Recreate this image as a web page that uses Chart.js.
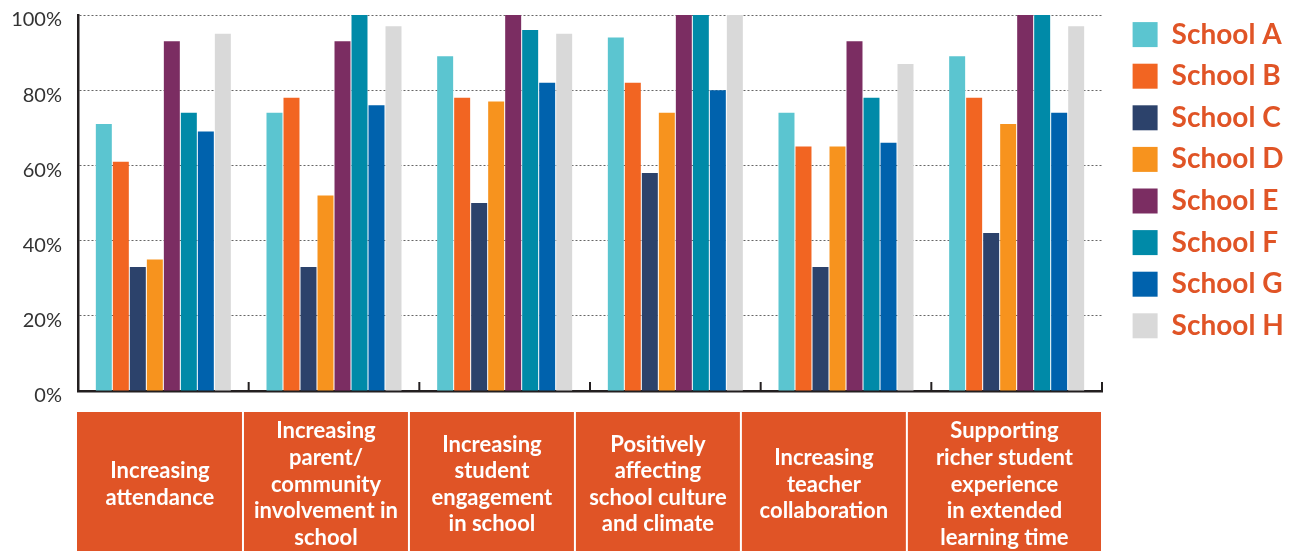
<!DOCTYPE html>
<html lang="en">
<head>
	<meta charset="UTF-8">
	<title>school outcomes chart</title>
	<style>
		html, body { margin: 0; padding: 0; background: #fff; }
		#wrap { width: 1297px; height: 551px; }
	</style>
</head>
<body>

<div id="wrap"><canvas id="myChart"></canvas></div>

<script src="https://cdn.jsdelivr.net/npm/chart.js@4.4.1/dist/chart.umd.min.js"></script>
<script>
// categories (multi-line labels shown in the orange boxes)
var categories = [
    ["Increasing", "attendance"],
    ["Increasing", "parent/", "community", "involvement in", "school"],
    ["Increasing", "student", "engagement", "in school"],
    ["Positively", "affecting", "school culture", "and climate"],
    ["Increasing", "teacher", "collaboration"],
    ["Supporting", "richer student", "experience", "in extended", "learning time"]
];
var schools = ["School A", "School B", "School C", "School D", "School E", "School F", "School G", "School H"];
var schoolA = [71, 74, 89, 94, 74, 89];
var schoolB = [61, 78, 78, 82, 65, 78];
var schoolC = [33, 33, 50, 58, 33, 42];
var schoolD = [35, 52, 77, 74, 65, 71];
var schoolE = [93, 93, 100, 100, 93, 100];
var schoolF = [74, 100, 96, 100, 78, 100];
var schoolG = [69, 76, 82, 80, 66, 74];
var schoolH = [95, 97, 95, 100, 87, 97];
var yTicks = [0, 20, 40, 60, 80, 100];

var colors = ['#5BC5D0', '#F26522', '#2C426B', '#F7931E', '#7B2D62', '#008AA8', '#0062AD', '#D9D9D9'];
var seriesValues = [schoolA, schoolB, schoolC, schoolD, schoolE, schoolF, schoolG, schoolH];

var ORANGE = '#E05426';
var AXIS = '#231F20';

var datasets = schools.map(function(name, i) {
    return {
        label: name,
        data: seriesValues[i],
        backgroundColor: colors[i],
        borderWidth: 0,
        barPercentage: 0.94,
        categoryPercentage: 0.797
    };
});

// draws the orange category boxes and the upward tick marks on the x axis
var categoryBoxes = {
    id: 'categoryBoxes',
    afterDraw: function(chart) {
        var ctx = chart.ctx;
        var area = chart.chartArea;
        var n = categories.length;
        var catW = (area.right - area.left) / n;
        var boxW = catW * 0.9725;

        // tick marks pointing up at category boundaries
        ctx.save();
        ctx.strokeStyle = AXIS;
        ctx.lineWidth = 2;
        for (var i = 1; i <= n; i++) {
            var tx = chart.scales.x.getPixelForValue(i - 1) + catW / 2;
            ctx.beginPath();
            ctx.moveTo(tx, area.bottom + 1);
            ctx.lineTo(tx, area.bottom - 9);
            ctx.stroke();
        }
        ctx.restore();

        var top = area.bottom + 21;
        var bottom = chart.height;
        ctx.save();
        for (var j = 0; j < n; j++) {
            var left = area.left - 1 + j * boxW;
            var right = (j === n - 1) ? area.right : area.left - 1 + (j + 1) * boxW;
            ctx.fillStyle = ORANGE;
            ctx.fillRect(left + (j === 0 ? 0 : 1), top, right - left - (j === 0 ? 1 : 2), bottom - top);

            var lines = categories[j];
            var lh = 26.6;
            var cx = (left + right) / 2;
            var cy = (top + bottom) / 2 + 3;
            var y0 = cy - (lines.length - 1) * lh / 2;
            ctx.fillStyle = '#fff';
            ctx.font = 'bold 22px Lato';
            ctx.textAlign = 'center';
            ctx.textBaseline = 'middle';
            lines.forEach(function(t, k) {
                ctx.fillText(t, cx, y0 + k * lh);
            });
        }
        ctx.restore();
    }
};

// places the legend where the original has it
var legendPlace = {
    id: 'legendPlace',
    beforeInit: function(chart) {
        var fit = chart.legend.fit;
        chart.legend.fit = function() {
            fit.call(this);
            this.width = 195;
        };
    },
    afterLayout: function(chart) {
        chart.legend.left += 17;
        chart.legend.top -= 8;
    }
};

var ctx = document.getElementById('myChart').getContext('2d');
var chart = new Chart(ctx, {
    type: 'bar',
    data: {
        labels: categories,
        datasets: datasets
    },
    options: {
        responsive: true,
        maintainAspectRatio: false,
        animation: false,
        layout: { padding: { top: 15, left: 0, right: 0, bottom: 0 } },
        plugins: {
            tooltip: { enabled: false },
            legend: {
                position: 'right',
                align: 'start',
                labels: {
                    boxWidth: 25,
                    boxHeight: 25,
                    padding: 13.6,
                    color: ORANGE,
                    font: { family: 'Lato', size: 28, weight: 'bold' }
                }
            }
        },
        scales: {
            x: {
                grid: { display: false, drawTicks: false },
                border: { display: true, color: AXIS, width: 2.5 },
                ticks: { display: false },
                afterFit: function(s) { s.height = 160; }
            },
            y: {
                min: 0,
                max: 100,
                afterBuildTicks: function(s) {
                    s.ticks = yTicks.map(function(v) { return { value: v }; });
                },
                afterFit: function(s) {
                    s.width = 78;
                    s.paddingTop = 0;
                    s.paddingBottom = 0;
                },
                grid: {
                    drawTicks: false,
                    lineWidth: 1,
                    color: function(c) { return c.tick && c.tick.value === 0 ? 'rgba(0,0,0,0)' : '#666'; }
                },
                border: { display: true, color: AXIS, width: 2.5, dash: [2, 2] },
                ticks: {
                    padding: 16,
                    labelOffset: 5,
                    color: '#333',
                    font: { family: 'Lato', size: 20 },
                    callback: function(v) { return v + '%'; }
                }
            }
        }
    },
    plugins: [categoryBoxes, legendPlace]
});
</script>
</body>
</html>
